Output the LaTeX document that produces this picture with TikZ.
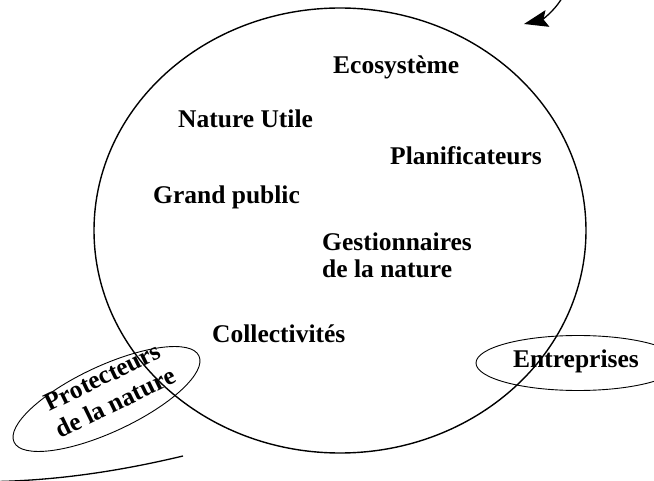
\documentclass[tikz,border=0pt]{standalone}
\usepackage{fontspec}
\setmainfont{Liberation Serif}
\usetikzlibrary{shapes.geometric,arrows.meta}
\begin{document}
\begin{tikzpicture}[x=1pt,y=-1pt,
  lbl/.style={font=\fontsize{25.5}{27}\selectfont\bfseries, inner sep=0pt, anchor=base west},
  oval/.style={draw, ellipse, inner sep=0pt, line width=0.9pt},
  curveline/.style={line width=1.3pt}]
\useasboundingbox (0,0) rectangle (654,481);
\clip (0,0) rectangle (654,481);
% main circle
\node[oval, line width=1.4pt, minimum width=492pt, minimum height=445pt] (main) at (340,230.5) {};
% small ellipses
\node[oval, minimum width=204pt, minimum height=66pt, rotate=25] (protE) at (106.5,399) {};
\node[oval, minimum width=204pt, minimum height=55pt] (entE) at (578,363) {};
% labels
\node[lbl] (eco) at (333,74) {Ecosystème};
\node[lbl] (nat) at (178,128) {Nature Utile};
\node[lbl] (plan) at (390,165) {Planificateurs};
\node[lbl] (grand) at (153,204) {Grand public};
\node[lbl, align=left, anchor=base west] (gest) at (322,278) {Gestionnaires\\de la nature};
\node[lbl] (coll) at (212,343) {Collectivités};
\node[lbl] (ent) at (513,368) {Entreprises};
\node[font=\fontsize{25.5}{29}\selectfont\bfseries, inner sep=0pt, align=center, rotate=26] (prot) at (109,390) {Protecteurs\\de la nature};
% outer cycle fragments
\coordinate (arrS) at (562,-2);
\coordinate (arrE) at (524,24);
\draw[curveline, -{Stealth[length=24pt,width=17pt,inset=4pt]}] (arrS) .. controls (553,13) and (541,20) .. (arrE);
\coordinate (blS) at (-2,481.5);
\coordinate (blE) at (183,456);
\draw[curveline] (blS) .. controls (60,480) and (120,471) .. (blE);
\end{tikzpicture}
\end{document}
